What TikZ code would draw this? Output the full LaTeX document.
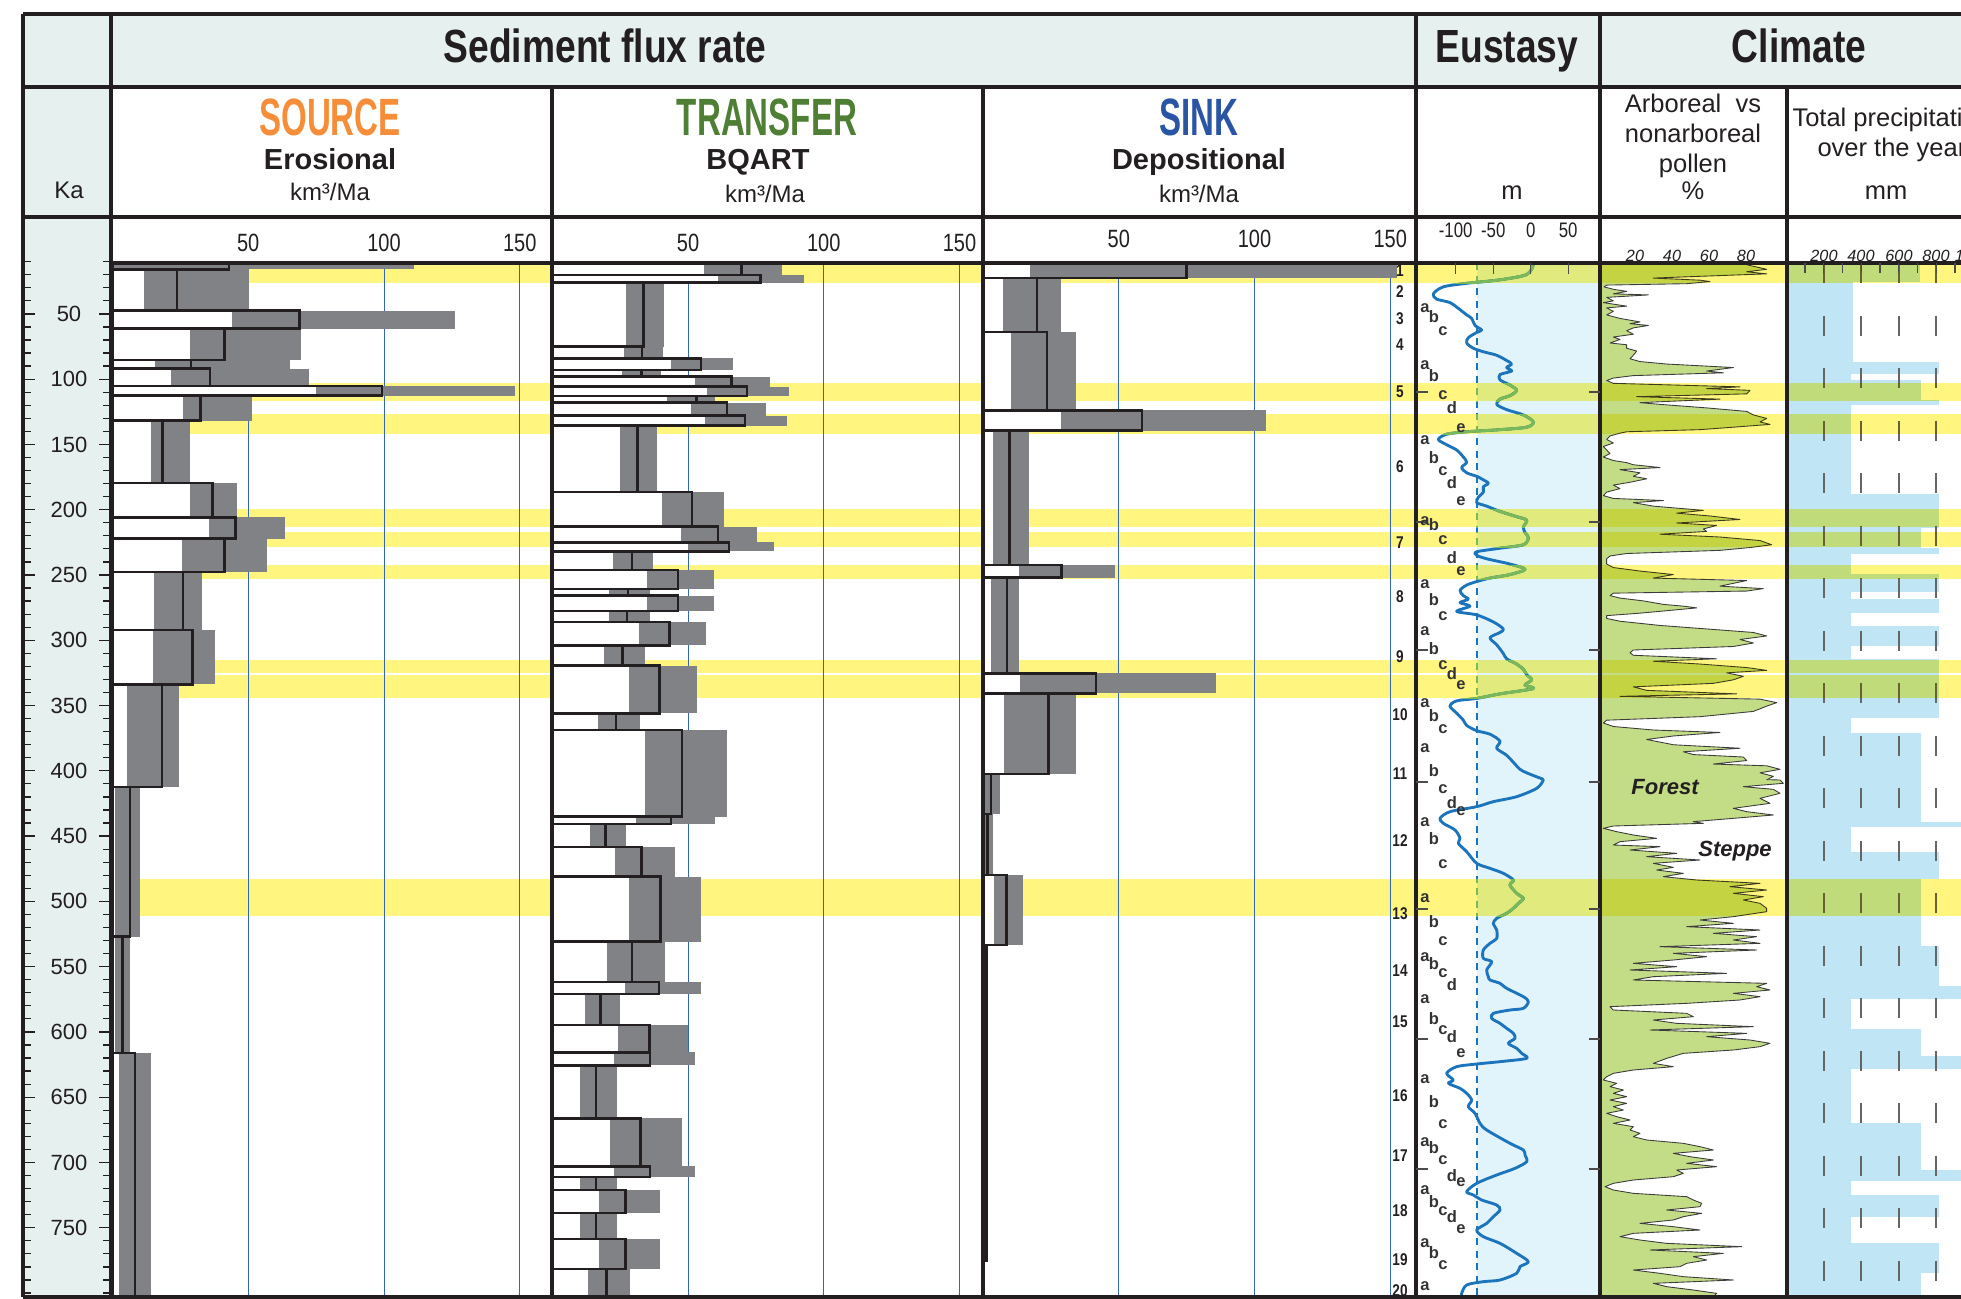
\documentclass[tikz,border=0pt]{standalone}
\usepackage{fontspec}
\setmainfont{Liberation Sans}
\newfontfamily\narrowsf[FakeStretch=0.8]{Liberation Sans}
\newfontfamily\slimsf[FakeStretch=0.63]{Liberation Sans}

\definecolor{headbg}{HTML}{E6F0EE}
\definecolor{fluxgray}{HTML}{808285}
\definecolor{warmyellow}{HTML}{FFF57F}
\definecolor{seablue}{HTML}{1C75BC}
\definecolor{seagreen}{HTML}{7AB85C}
\definecolor{sealight}{HTML}{E1F4FB}
\definecolor{rainblue}{HTML}{C0E6F6}
\definecolor{pollengreen}{HTML}{C3DC86}
\definecolor{pollenink}{HTML}{3C3C3C}
\definecolor{gridblue}{HTML}{3366BB}
\definecolor{srcorange}{HTML}{F68D39}
\definecolor{trfgreen}{HTML}{4F7F35}
\definecolor{snkblue}{HTML}{2A55A5}
\definecolor{inkdark}{HTML}{231F20}

\tikzset{
  frameline/.style={draw=inkdark, line width=1.3pt},
  barbox/.style={draw=inkdark, line width=1pt},
  gridline/.style={draw=gridblue, line width=0.4pt},
  sealine/.style={line width=1.15pt, line join=round},
  seatick/.style={draw=black!70, line width=0.5pt},
  katick/.style={draw=inkdark, line width=0.5pt},
  raindash/.style={draw=black!60, line width=0.45pt, dash pattern=on 8pt off 13pt},
  pollenedge/.style={draw=pollenink, line width=0.35pt, line join=round},
  headtitle/.style={font=\narrowsf\bfseries\fontsize{18.6}{22}\selectfont, text=inkdark, inner sep=0pt, anchor=base},
  colname/.style={font=\slimsf\bfseries\fontsize{21}{24}\selectfont, inner sep=0pt, anchor=base},
  subname/.style={font=\bfseries\fontsize{11.6}{14}\selectfont, text=inkdark, inner sep=0pt, anchor=base},
  unitname/.style={font=\fontsize{9.6}{12}\selectfont, text=inkdark, inner sep=0pt, anchor=base},
  plainhead/.style={font=\fontsize{10.2}{12}\selectfont, text=inkdark, inner sep=0pt, anchor=base},
  axisnum/.style={font=\narrowsf\fontsize{10}{12}\selectfont, text=inkdark, inner sep=0pt, anchor=base},
  smallnum/.style={font=\narrowsf\fontsize{8.4}{10}\selectfont, text=inkdark, inner sep=0pt, anchor=base},
  tinynum/.style={font=\itshape\fontsize{6.5}{8}\selectfont, text=inkdark, inner sep=0pt, anchor=base},
  kalabel/.style={font=\fontsize{8.8}{10}\selectfont, text=inkdark, inner sep=0pt},
  misnum/.style={font=\narrowsf\bfseries\fontsize{6.8}{8}\selectfont, text=inkdark, inner sep=0pt},
  substage/.style={font=\bfseries\fontsize{6.6}{8}\selectfont, text=black!80, inner sep=0pt},
  vegname/.style={font=\bfseries\itshape\fontsize{8.8}{10}\selectfont, text=inkdark, inner sep=0pt}
}

% one flux column: left edge, data list (ka top/ka bottom/low/mean/high)
\newcommand{\fluxcolumn}[2]{%
  \begin{scope}[shift={(#1,248.6)}, x=1.086pt, y=-0.5222pt]
    \foreach \v in {50,100,150}
      \draw[gridline] (\v,11) -- (\v,803);
    \foreach \t/\b/\lo/\mn/\hi in #2{
      \fill[fluxgray] (\lo,\t) rectangle (\hi,\b);
      \fill[white] (0,\t) rectangle (\lo,\b);
    }
    \foreach \t/\b/\lo/\mn/\hi in #2
      \draw[barbox] (0,\t) rectangle (\mn,\b);
  \end{scope}}

% sea level curve and its reference line, in the given colour
\newcommand{\seacurve}[1]{%
  \begin{scope}[shift={(1400,250)}, x=0.13333pt, y=-0.14035pt]
    \draw[sealine, draw=#1] plot[smooth, tension=0.5] coordinates {(400,42) (380,70) (300,85) (200,95)
      (130,105) (100,125) (110,140) (150,150) (180,170) (200,185) (215,195) (225,215)
      (245,228) (230,235) (205,250) (200,265) (220,280) (250,290) (290,300) (320,315)
      (335,325) (320,335) (335,345) (300,355) (300,370) (330,385) (350,400) (330,415)
      (300,425) (290,440) (320,455) (370,470) (400,490) (380,505) (300,512) (200,518)
      (140,525) (115,540) (140,555) (170,570) (190,590) (200,605) (185,620) (200,635)
      (230,645) (250,655) (265,665) (250,675) (250,690) (235,705) (230,720) (260,730)
      (300,745) (350,760) (380,770) (370,790) (375,805) (385,820) (370,840) (300,850)
      (230,860) (230,870) (260,880) (330,895) (375,910) (330,925) (270,935) (230,945)
      (200,955) (180,970) (190,985) (205,995) (180,1005) (210,1015) (170,1030)
      (230,1040) (280,1060) (310,1080) (300,1090) (270,1105) (290,1125) (310,1150)
      (320,1165) (350,1180) (370,1195) (380,1210) (395,1225) (375,1240) (400,1250)
      (300,1265) (230,1278) (170,1285) (150,1300) (170,1320) (190,1340) (200,1355)
      (230,1370) (270,1380) (300,1400) (290,1420) (320,1440) (340,1460) (360,1480)
      (380,1490) (420,1505)};
  \end{scope}
  \begin{scope}[shift={(1400,780)}, x=0.13333pt, y=-0.13333pt]
    \draw[sealine, draw=#1] plot[smooth, tension=0.5] coordinates {(420,-5) (430,0) (410,25) (350,50)
      (280,65) (230,80) (150,95) (120,115) (130,130) (165,150) (180,175) (175,190)
      (200,215) (230,250) (270,265) (310,280) (340,300) (330,315) (350,340) (370,355)
      (355,370) (340,385) (320,400) (290,415) (280,430) (290,450) (290,475) (270,490)
      (250,510) (250,535) (275,545) (260,570) (265,590) (270,600) (300,610) (320,625)
      (370,650) (385,665) (370,685) (330,690) (280,700) (275,715) (300,730) (320,745)
      (340,760) (345,775) (325,790) (350,805) (365,820) (380,835) (300,845) (230,852)
      (170,860) (140,880) (160,900) (145,910) (180,925) (200,940) (215,960) (205,980)
      (225,1000) (240,1030) (260,1050) (330,1090) (370,1110) (375,1125) (380,1145)
      (345,1165) (290,1185) (230,1210) (200,1235) (220,1245) (245,1260) (290,1275)
      (300,1290) (280,1310) (260,1330) (230,1350) (250,1370) (300,1390) (350,1420)
      (385,1445) (360,1460) (350,1480) (300,1500) (250,1505) (200,1515) (185,1540)
      (185,1551)};
  \end{scope}
  \draw[#1, line width=0.8pt, dash pattern=on 2.8pt off 2.2pt] (1477,263) -- (1477,1297);}

\begin{document}
\begin{tikzpicture}[x=0.4pt, y=-0.4pt]

	\useasboundingbox (0,0) rectangle (1961,1299);
	\clip (0,0) rectangle (1961,1299);

	% data, ka top / ka bottom / low / mean / high
	\def\sourcedata{11/16/0/43/111, 16/47.5/11.7/23.8/50.2, 47.5/61.3/44/68.8/126,
		61.3/85.5/28.6/41.3/69.5, 85.5/91.9/15.8/28.9/65.3, 91.9/105.2/21.4/36/72.5,
		105.2/112.6/75/99.2/148.4, 112.6/131.7/26/32.4/51.3, 131.7/179.7/14.1/18.5/28.6,
		179.7/205.8/28.6/36.8/45.7, 205.8/222.1/35.5/45.3/63.6, 222.1/247.6/25.5/41.3/57,
		247.6/292/15.2/26/33, 292/333.7/15/29.5/37.7, 333.7/412.4/5.5/18.2/24.4,
		412.4/527/1/6.5/10, 527/616/1/3.7/6.5, 616/803/2.4/8.2/14.2}
	\def\transferdata{11/20.4/55.8/69.7/84.5, 20.4/26/61/76.7/92.7, 26/75/27/33.6/41.1,
		75/84/26.4/33/40.9, 84/93/43.6/54.7/66.5, 93/98/25.7/32.8/40.1,
		98/105.7/52.5/66/80.3, 105.7/113/57/71.8/87.3, 113/118/42.2/53.1/60,
		118/128/51.2/64.3/78.6, 128/135.6/56.2/71/86.3, 135.6/186.6/24.9/31.3/38.7,
		186.6/213/40.4/51.5/63.3, 213/225/47.5/61.1/75.5, 225/232/50/65.1/81.7,
		232/246/22.4/29.3/37.1, 246/260.7/34.7/46.3/59.4, 260.7/265.8/20.8/27.8/35.8,
		265.8/277.5/34.7/46.3/59.4, 277.5/286.2/20.8/27.6/35.8, 286.2/304/31.8/43.2/56.7,
		304/319.4/19/25.9/34.2, 319.4/356/28.1/39.4/53.2, 356/368.7/16.7/23.5/32.3,
		368.7/435/34/47.8/64.4, 435/440.6/30.9/43.8/59.9, 440.6/458.4/13.9/19.6/27.2,
		458.4/481/23.2/32.8/45.1, 481/530.8/28.1/39.9/54.7, 530.8/561.7/20/29.3/41.4,
		561.7/571/26.6/39.3/54.9, 571/594.6/11.9/17.7/25.1, 594.6/615.6/24.1/35.8/50,
		615.6/625.7/22.9/36/52.7, 625.7/666.2/10.3/16.1/23.9, 666.2/703/21.1/32.5/47.9,
		703/711.3/22.9/36/52.7, 711.3/720.9/10.3/16.1/23.9, 720.9/738.7/17.1/27/39.7,
		738.7/758.7/10.3/16.1/23.9, 758.7/781.6/17.1/27/39.7, 781.6/803/13/20/28.8}
	\def\sinkdata{11/22.5/17.4/74.9/152.3, 22.5/63.8/7.3/19.8/28.9, 63.8/124/10.3/23.5/34.3,
		124/139.4/28.8/58.6/104.3, 139.4/242.3/3.7/9.8/16.8, 242.3/252/13.1/29/48.6,
		252/325.3/2.9/8.8/13.1, 325.3/340.6/13.5/41.6/85.7, 340.6/402.3/7.8/24.1/34.1,
		402.3/433.2/0.9/2.9/6.1, 433.2/479.7/0.5/1.7/3.7, 479.7/533.6/3.9/8.6/14.7,
		533.6/775.6/0/1.2/1.7}
	\def\warmbands{263/283, 383/401, 414/434, 509/527, 532/547, 565/579, 660/673, 675/698, 879/916}
	\def\rainbars{263/282/1920, 282/362/1853, 362/374/1939, 374/380/1851, 380/400/1921,
		400/405/1939, 405/494/1851, 494/528/1939, 528/548/1921, 548/554/1939,
		554/574/1851, 574/592/1939, 592/599/1851, 599/613/1939, 613/626/1851,
		626/646/1939, 646/659/1851, 659/718/1939, 718/733/1851, 733/822/1921,
		822/827/1961, 827/852/1851, 852/879/1939, 879/946/1921, 946/986/1939,
		986/999/1961, 999/1029/1851, 1029/1056/1921, 1056/1069/1961, 1069/1123/1851,
		1123/1170/1921, 1170/1181/1961, 1181/1195/1851, 1195/1217/1939, 1217/1243/1851,
		1243/1273/1939, 1273/1297/1921}
	\def\pollenupper{1040/42, 1100/55, 1040/62, 1100/68, 900/75, 760/80, 900/86, 930/90,
		860/96, 620/100, 612/105, 640/112, 680/118, 640/125, 745/128, 620/135, 640/145,
		610/150, 680/160, 620/165, 640/175, 620/185, 660/195, 720/205, 690/210, 745/215,
		700/222, 680/230, 700/240, 640/248, 660/255, 630/265, 680/270, 680/280, 710/288,
		700/300, 690/310, 720/318, 800/325, 1000/335, 920/345, 970/350, 700/358, 640/365,
		620/372, 640/380, 1020/390, 920/395, 1050/400, 1040/410, 710/418, 960/425, 720/435,
		780/440, 920/450, 1040/460, 1060/470, 1100/480, 1080/490, 1110/497, 1000/505,
		900/512, 680/518, 660/522, 630/530, 620/540, 640/550, 610/560, 620/570, 630/580,
		610/590, 640/600, 680/606, 700/612, 780/620, 660/626, 720/635, 700/645, 740/652,
		690/662, 640/670, 660/680, 620/690, 610/700, 640/708, 790/714, 700/720, 760/730,
		910/742, 830/750, 930/758, 1020/768, 830/778, 950/785, 910/795, 920/802, 780/810,
		960/818, 1080/828, 1115/840, 1050/848, 960/856, 680/865, 630/872, 620/880,
		620/895, 640/905, 720/915, 820/925, 760/935, 1040/942, 1000/950, 960/958,
		1090/965, 1040/972, 640/978, 630/985, 660/992, 730/1000, 790/1010, 850/1015,
		890/1020, 800/1028, 720/1035, 620/1042, 620/1050, 660/1058, 780/1070, 920/1080,
		1060/1090, 1100/1100, 1020/1110, 1060/1120, 1000/1130, 700/1140, 690/1148,
		700/1155, 950/1165, 760/1172, 900/1180, 1040/1190, 1100/1198, 980/1205,
		1030/1215, 1000/1225, 940/1235, 700/1245, 740/1255, 1010/1265, 660/1272,
		1080/1280, 1130/1290, 1100/1300, 1060/1315, 900/1330, 620/1340, 610/1348,
		640/1358, 760/1368, 960/1375, 820/1385, 740/1395, 820/1410, 1020/1420, 850/1430,
		880/1438, 1030/1445, 1040/1455, 940/1465, 1100/1470, 1140/1480, 1080/1490,
		1120/1500, 1100/1510}
	\def\pollenlower{1100/-1, 1140/0, 1150/10, 1030/20, 1120/28, 1140/40, 1080/55, 1110/70,
		1000/85, 1040/95, 1120/105, 1000/115, 880/125, 910/130, 640/138, 610/145, 650/155,
		700/165, 770/175, 660/185, 640/195, 780/200, 690/210, 830/220, 740/230, 900/240,
		760/250, 820/262, 770/270, 850/280, 790/290, 890/300, 1080/310, 990/320, 1100/330,
		1000/340, 1090/350, 1030/360, 1080/370, 1100/385, 1100/395, 1000/410, 900/420,
		1000/430, 860/440, 1080/450, 940/460, 1070/470, 1000/480, 1080/490, 780/500,
		1070/510, 820/520, 920/530, 820/540, 700/550, 830/560, 690/570, 980/580, 760/590,
		700/600, 1100/610, 1070/620, 1110/630, 1000/640, 1080/650, 1020/660, 860/670,
		630/680, 640/690, 860/700, 880/710, 760/720, 830/730, 1060/740, 750/750, 1040/760,
		920/770, 1050/780, 1110/790, 1080/800, 1000/810, 850/820, 800/835, 760/850,
		820/860, 700/870, 640/880, 620/890, 610/900, 650/910, 630/920, 670/930, 640/940,
		680/950, 630/960, 680/970, 640/980, 670/990, 620/1000, 650/1010, 690/1020,
		640/1030, 700/1040, 690/1050, 720/1060, 700/1070, 740/1080, 850/1090, 900/1100,
		940/1110, 820/1120, 870/1130, 940/1140, 860/1150, 950/1160, 830/1170, 850/1180,
		820/1190, 700/1200, 640/1210, 615/1220, 640/1230, 700/1240, 860/1250, 880/1260,
		905/1270, 900/1280, 800/1290, 905/1300, 850/1310, 820/1320, 720/1330, 820/1340,
		900/1350, 700/1360, 660/1370, 720/1380, 800/1390, 1025/1400, 750/1410, 970/1420,
		880/1430, 920/1440, 860/1450, 840/1460, 700/1470, 780/1480, 850/1490, 1000/1500,
		760/1510, 800/1520, 880/1530, 950/1540, 940/1551}

	% panels
	\fill[headbg] (23,14) rectangle (1961,87);
	\fill[headbg] (23,87) rectangle (111,1297);
	\fill[sealight] (1477,263) rectangle (1600,1297);
	\foreach \t/\b/\r in \rainbars
		\fill[rainblue] (1787,\t) rectangle (\r,\b);
	\foreach \t/\b in \warmbands
		\fill[warmyellow] (111,\t) rectangle (1416,\b);

	% sediment flux columns
	\fluxcolumn{112.5}{\sourcedata}
	\fluxcolumn{552.3}{\transferdata}
	\fluxcolumn{983}{\sinkdata}

	% pollen, upper part
	\begin{scope}[shift={(1400,250)}, x=0.13333pt, y=-0.14035pt]
		\fill[pollengreen] (603,42) \foreach \px/\py in \pollenupper {-- (\px,\py)} -- (603,1510) -- cycle;
		\draw[pollenedge] (1040,42) \foreach \px/\py in \pollenupper {-- (\px,\py)};
	\end{scope}

	% pollen, lower part
	\begin{scope}[shift={(1400,780)}, x=0.13333pt, y=-0.13333pt]
		\fill[pollengreen] (603,-1) \foreach \px/\py in \pollenlower {-- (\px,\py)} -- (603,1551) -- cycle;
		\draw[pollenedge] (1100,-1) \foreach \px/\py in \pollenlower {-- (\px,\py)};
	\end{scope}

	\seacurve{seablue}
	\foreach \x in {1824,1861,1899,1936}
		\draw[raindash] (\x,263) -- (\x,1297);

	% interglacials over the curves
	\begin{scope}[blend mode=multiply]
		\foreach \t/\b in \warmbands
			\fill[warmyellow] (1416,\t) rectangle (1961,\b);
	\end{scope}
	\foreach \t/\b in \warmbands{
		\begin{scope}
			\clip (1416,\t) rectangle (1600,\b);
			\seacurve{seagreen}
		\end{scope}
	}

	% frame
	\draw[frameline] (23,14) -- (1961,14);
	\draw[frameline] (23,87) -- (1961,87);
	\draw[frameline] (23,217) -- (1961,217);
	\draw[frameline] (111,263) -- (1961,263);
	\draw[frameline] (23,1297) -- (1961,1297);
	\foreach \x in {23,111,1416,1600}
		\draw[frameline] (\x,14) -- (\x,1297);
	\foreach \x in {552,983,1787}
		\draw[frameline] (\x,87) -- (\x,1297);

	% ticks
	\begin{scope}[shift={(0,248.6)}, y=-0.5222pt]
		\foreach \k in {10,20,...,800}{
			\draw[katick] (23,\k) -- (31,\k);
			\draw[katick] (103,\k) -- (111,\k);
		}
		\foreach \k in {50,100,...,750}{
			\draw[katick] (23,\k) -- (35,\k);
			\draw[katick] (99,\k) -- (111,\k);
			\node[kalabel] (ka-\k) at (69,\k) {\k};
		}
	\end{scope}
	\foreach \v in {-100,-50,0,50}
		\draw[seatick] ({1530.7+0.75*\v},263) -- ++(0,11);
	\foreach \m in {100,200,...,900}
		\draw[seatick] ({1786.3+0.1875*\m},263) -- ++(0,10);
	\foreach \y in {392,522,650,782,909,1039,1169}{
		\draw[seatick] (1416,\y) -- (1428,\y);
		\draw[seatick] (1589,\y) -- (1600,\y);
	}

	% headings
	\node[headtitle] (hflux) at (605,63) {Sediment flux rate};
	\node[headtitle] (heus) at (1507,63) {Eustasy};
	\node[headtitle] (hclim) at (1799,63) {Climate};
	\node[unitname] (ka) at (69,199) {Ka};

	\node[colname, text=srcorange] (source) at (330,136) {SOURCE};
	\node[subname] (erosional) at (330,170) {Erosional};
	\node[unitname] (srcunit) at (330,201) {km³/Ma};
	\node[colname, text=trfgreen] (transfer) at (767,136) {TRANSFER};
	\node[subname] (bqart) at (758,170) {BQART};
	\node[unitname] (trfunit) at (765,203) {km³/Ma};
	\node[colname, text=snkblue] (sink) at (1199,136) {SINK};
	\node[subname] (depositional) at (1199,170) {Depositional};
	\node[unitname] (snkunit) at (1199,203) {km³/Ma};

	\node[plainhead] (seaunit) at (1512,200) {m};
	\node[plainhead] (arb1) at (1693,113) {Arboreal\ \ vs};
	\node[plainhead] (arb2) at (1693,143) {nonarboreal};
	\node[plainhead] (arb3) at (1693,173) {pollen};
	\node[plainhead] (arbunit) at (1693,200) {\%};
	\node[plainhead, anchor=base west] (rain1) at (1792,127) {Total precipitation};
	\node[plainhead, anchor=base west] (rain2) at (1817,157) {over the year};
	\node[plainhead] (rainunit) at (1886,200) {mm};

	% axis numbers
	\foreach \v in {50,100,150}{
		\node[axisnum] (src-\v) at ({112.5+2.715*\v},252) {\v};
		\node[axisnum] (trf-\v) at ({552.3+2.715*\v},252) {\v};
		\node[axisnum] (snk-\v) at ({983+2.715*\v},248) {\v};
	}
	\foreach \v in {-100,-50,0,50}
		\node[smallnum] (sea-\v) at ({1530.7+0.75*\v},237) {\v};
	\foreach \p/\x in {20/1635,40/1672,60/1709,80/1746}
		\node[tinynum] (pol-\p) at (\x,261) {\p};
	\foreach \m/\x in {200/1824,400/1861,600/1899,800/1936,1000/1973}
		\node[tinynum] (rain-\m) at (\x,261) {\m};

	% marine isotope stages
	\foreach \n/\y in {1/271,2/292,3/319,4/345,5/392,6/467,7/543,8/597,9/657,10/715,
		11/774,12/841,13/914,14/971,15/1022,16/1096,17/1156,18/1211,19/1260,20/1291}
		\node[misnum] (mis-\n) at (1400,\y) {\n};
	\foreach \y [count=\i] in {308,365,440,521,584,631,703,748,822,898,957,999,1079,1142,1190,1243,1286}
		\node[substage] (sa-\i) at (1425,\y) {a};
	\foreach \y [count=\i] in {317,376,458,525,600,649,716,771,839,922,964,1019,1102,1148,1202,1253}
		\node[substage] (sb-\i) at (1434,\y) {b};
	\foreach \y [count=\i] in {331,395,471,540,616,665,729,789,864,941,973,1030,1124,1160,1211,1265}
		\node[substage] (sc-\i) at (1443,\y) {c};
	\foreach \y [count=\i] in {408,483,558,674,803,985,1037,1176,1217}
		\node[substage] (sd-\i) at (1452,\y) {d};
	\foreach \y [count=\i] in {428,501,571,685,811,1053,1182,1229}
		\node[substage] (se-\i) at (1461,\y) {e};

	\node[vegname] (forest) at (1665,787) {Forest};
	\node[vegname] (steppe) at (1735,851) {Steppe};

\end{tikzpicture}
\end{document}
